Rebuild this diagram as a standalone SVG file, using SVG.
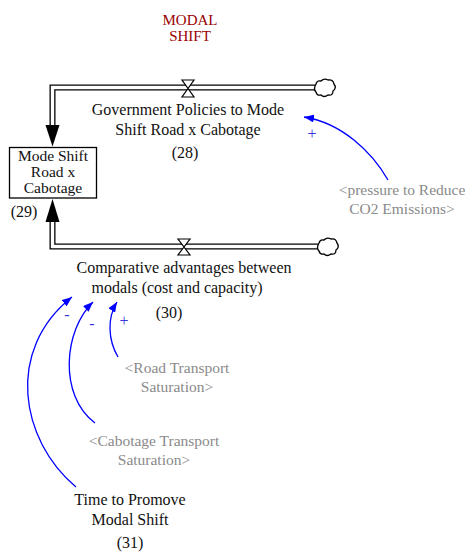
<svg xmlns="http://www.w3.org/2000/svg" width="467" height="552" viewBox="0 0 467 552" font-family="Liberation Serif, Times New Roman, DejaVu Serif, serif">
<style>
text{text-anchor:middle}
.lbl{font-size:16px;fill:#111}
.box{font-size:15.5px;fill:#111}
.title{font-size:15px;fill:#990000}
.shadow{font-size:15.5px;fill:#8a8a8a}
.sign{font-size:16px;fill:#3a36d8}
.pipeo{fill:none;stroke:#000;stroke-width:6;stroke-linejoin:miter}
.pipei{fill:none;stroke:#fff;stroke-width:3.4;stroke-linejoin:miter}
.link{fill:none;stroke:#0000ff;stroke-width:1.3}
.valve{fill:#fff;stroke:#000;stroke-width:1.2}
.cloud{fill:#fff;stroke:#000;stroke-width:1.3}
</style>
<defs>
<marker id="ah" viewBox="0 0 10 8" refX="10" refY="4" markerWidth="10" markerHeight="8" markerUnits="userSpaceOnUse" orient="auto">
<path d="M0,0 L10,4 L0,8 Z" fill="#0000ff"/>
</marker>
</defs>
<rect width="467" height="552" fill="#fff"/>
<g id="title">
<text class="title" x="190" y="25">MODAL</text>
<text class="title" x="190" y="41">SHIFT</text>
</g>
<g id="connectors">
<path class="pipeo" d="M317,87.5 H52.5 V126"/>
<path class="pipei" d="M317,87.5 H52.5 V126"/>
<polygon points="45.5,125 59.5,125 52.5,146.5" fill="#000"/>
<path class="pipeo" d="M319,246.5 H52.5 V221"/>
<path class="pipei" d="M319,246.5 H52.5 V221"/>
<polygon points="45.5,222 59.5,222 52.5,199" fill="#000"/>
<path class="link" d="M388,180 C372,152 342,123 304,117" marker-end="url(#ah)"/>
<path class="link" d="M118,357 C108,340 107,318 117,302" marker-end="url(#ah)"/>
<path class="link" d="M95,423 C58,395 64,330 93,302" marker-end="url(#ah)"/>
<path class="link" d="M76,487 C20,440 5,350 72,297" marker-end="url(#ah)"/>
<text class="sign" x="312" y="139">+</text>
<text class="sign" x="124" y="326">+</text>
<text class="sign" x="92" y="329">-</text>
<text class="sign" x="67" y="320">-</text>
</g>
<g id="cloud-top">
<path class="cloud" d="M316,84 q1,-4 5,-3 q3,-3 7,-1 q5,-1 6,4 q3,4 -1,7 q0,5 -5,4 q-4,3 -7,0 q-4,1 -5,-3 q-3,-3 0,-8 z"/>
</g>
<g id="cloud-bottom">
<path class="cloud" d="M319,243 q1,-4 5,-3 q3,-3 7,-1 q5,-1 6,4 q3,4 -1,7 q0,5 -5,4 q-4,3 -7,0 q-4,1 -5,-3 q-3,-3 0,-8 z"/>
</g>
<g id="flow-gov">
<polygon class="valve" points="182,80 194,80 188,88.5 194,97 182,97 188,88.5"/>
<text class="lbl" x="188" y="115">Government Policies to Mode</text>
<text class="lbl" x="188" y="135">Shift Road x Cabotage</text>
<text class="lbl" x="185" y="158">(28)</text>
</g>
<g id="stock-mode-shift">
<rect x="9.5" y="147.5" width="87" height="50.5" fill="#fff" stroke="#000" stroke-width="1.3"/>
<text class="box" x="53" y="161">Mode Shift</text>
<text class="box" x="53" y="177">Road x</text>
<text class="box" x="53" y="193">Cabotage</text>
<text class="lbl" x="24" y="217">(29)</text>
</g>
<g id="flow-comparative">
<polygon class="valve" points="178,239 190,239 184,247 190,255 178,255 184,247"/>
<text class="lbl" x="184" y="273">Comparative advantages between</text>
<text class="lbl" x="177" y="293">modals (cost and capacity)</text>
<text class="lbl" x="169" y="318">(30)</text>
</g>
<g id="shadow-pressure">
<text class="shadow" x="402" y="195">&lt;pressure to Reduce</text>
<text class="shadow" x="402" y="214">CO2 Emissions&gt;</text>
</g>
<g id="shadow-road">
<text class="shadow" x="177" y="373">&lt;Road Transport</text>
<text class="shadow" x="177" y="392">Saturation&gt;</text>
</g>
<g id="shadow-cabotage">
<text class="shadow" x="154" y="446">&lt;Cabotage Transport</text>
<text class="shadow" x="154" y="465">Saturation&gt;</text>
</g>
<g id="time-to-promove">
<text class="lbl" x="130" y="505">Time to Promove</text>
<text class="lbl" x="130" y="525">Modal Shift</text>
<text class="lbl" x="130" y="548">(31)</text>
</g>
</svg>
